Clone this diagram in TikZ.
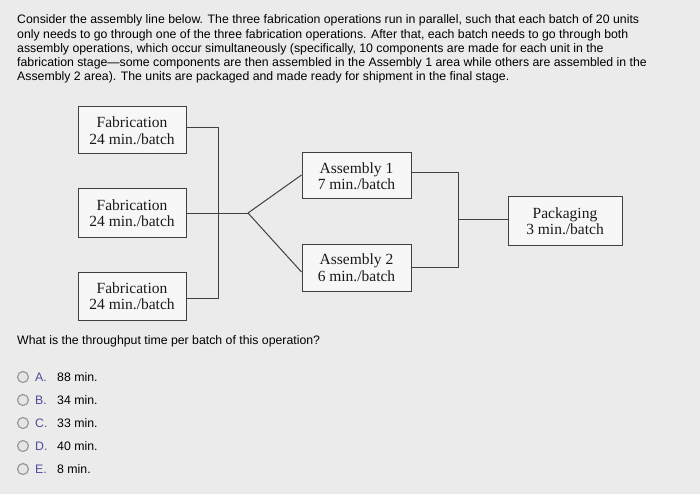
\documentclass[tikz,border=0pt]{standalone}
\usepackage{fontspec}
\setmainfont{Liberation Serif}
\newfontfamily\arialf{Liberation Sans}
\begin{document}
\begin{tikzpicture}[x=1pt,y=-1pt,
  box/.style={draw=black!75,line width=1pt,fill=white!60!black!8,align=center,inner sep=0pt,font=\fontsize{15.5}{16.5}\selectfont,text=black!90},
  conn/.style={draw=black!75,line width=1pt},
  hdr/.style={anchor=west,inner sep=0pt,font=\arialf\fontsize{12.3}{14}\selectfont,text=black},
  opt/.style={anchor=west,inner sep=0pt,font=\arialf\fontsize{12.3}{14}\selectfont,text=black},
  lett/.style={anchor=west,inner sep=0pt,font=\arialf\fontsize{12.3}{14}\selectfont,text=blue!45!black!70},
  rad/.style={draw=black!40,line width=1.2pt,fill=white!90!black}]
\fill[black!8] (0,0) rectangle (700,494);
\useasboundingbox (0,0) rectangle (700,494);
\node[hdr] (h1) at (17,20) {Consider the assembly line below. The three fabrication operations run in parallel, such that each batch of 20 units};
\node[hdr] (h2) at (17,35) {only needs to go through one of the three fabrication operations. After that, each batch needs to go through both};
\node[hdr] (h3) at (17,49) {assembly operations, which occur simultaneously (specifically, 10 components are made for each unit in the};
\node[hdr] (h4) at (17,63) {fabrication stage\textemdash some components are then assembled in the Assembly 1 area while others are assembled in the};
\node[hdr] (h5) at (17,77) {Assembly 2 area). The units are packaged and made ready for shipment in the final stage.};

\node[box,minimum width=108pt,minimum height=47pt] (f1) at (132,130.5) {Fabrication\\24 min./batch};
\node[box,minimum width=108pt,minimum height=48pt] (f2) at (132,213) {Fabrication\\24 min./batch};
\node[box,minimum width=108pt,minimum height=48pt] (f3) at (132,296) {Fabrication\\24 min./batch};
\node[box,minimum width=109pt,minimum height=46pt] (a1) at (356.5,176) {Assembly 1\\7 min./batch};
\node[box,minimum width=109pt,minimum height=47pt] (a2) at (356.5,267.5) {Assembly 2\\6 min./batch};
\node[box,minimum width=114pt,minimum height=48pt] (pk) at (565,221) {Packaging\\3 min./batch};

\coordinate (br) at (248,213);
\coordinate (rj) at (458,219);
\draw[conn] (f1.east |- 0,128) -| (218,298) -- (f3.east |- 0,298);
\draw[conn] (f2.east) -- (br);
\draw[conn] (br) -- (a1.west |- 0,175);
\draw[conn] (br) -- (a2.west |- 0,272);
\draw[conn] (a1.east |- 0,173) -| (458,267) -- (a2.east |- 0,267);
\draw[conn] (rj) -- (pk.west |- rj);

\node[hdr] (q) at (17,341) {What is the throughput time per batch of this operation?};
\foreach \y/\l/\v [count=\i] in {377/A./88 min.,400/B./34 min.,423/C./33 min.,446/D./40 min.,469/E./8 min.}{
  \node[rad,circle,minimum size=11pt,inner sep=0pt] (c\i) at (23,\y) {};
  \node[lett] (l\i) at (35,\y) {\l};
  \node[opt] (v\i) at (57,\y) {\v};
}
\end{tikzpicture}
\end{document}
